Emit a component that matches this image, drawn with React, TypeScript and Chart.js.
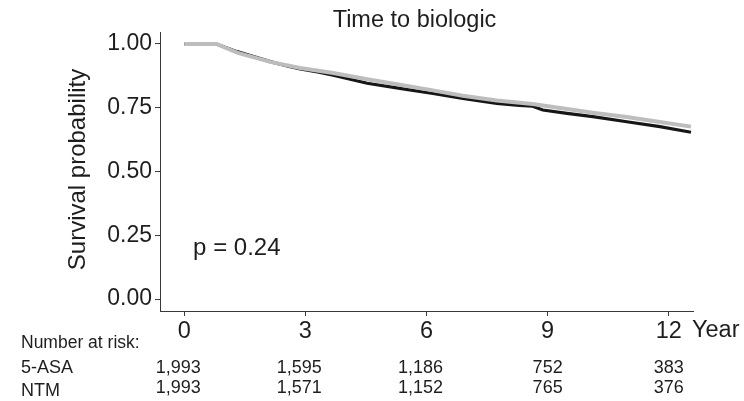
import React, { useEffect, useRef } from 'react';
import { Chart, registerables } from 'chart.js';

Chart.register(...registerables);

const chartTitle = 'Time to biologic';
const yAxisLabel = 'Survival probability';
const xAxisLabel = 'Year';
const pValueText = 'p = 0.24';
const riskHeader = 'Number at risk:';

const xTicks = [0, 3, 6, 9, 12];
const yTicks = [0, 0.25, 0.5, 0.75, 1];

const groupNames = ['5-ASA', 'NTM'];
const riskASA = ['1,993', '1,595', '1,186', '752', '383'];
const riskNTM = ['1,993', '1,571', '1,152', '765', '376'];

// 5-ASA (black curve)
const timesASA = [0, 0.8, 1.31, 2.13, 2.6, 2.87, 3.3, 3.69, 4.53, 5.34, 6.16, 6.9, 7.74, 8.3, 8.63, 8.88, 9.48, 10.12, 10.96, 11.78, 12.55];
const survASA = [1, 1, 0.97, 0.931, 0.912, 0.902, 0.89, 0.878, 0.846, 0.826, 0.806, 0.787, 0.767, 0.759, 0.756, 0.741, 0.728, 0.715, 0.695, 0.676, 0.654];

// NTM (grey curve)
const timesNTM = [0, 0.8, 1.31, 2.13, 2.87, 3.69, 4.53, 5.34, 6.16, 6.9, 7.74, 8.63, 9.48, 10.12, 10.96, 11.78, 12.55];
const survNTM = [1, 1, 0.966, 0.93, 0.906, 0.886, 0.862, 0.84, 0.818, 0.797, 0.778, 0.765, 0.745, 0.73, 0.714, 0.694, 0.676];

const FONT = '"Liberation Sans", Arial, Helvetica, sans-serif';
const TEXT = '#1e1e1e';
const AXIS = '#3a3a3a';

const annotationPlugin = {
  id: 'kmAnnotations',
  afterDraw(chart: any) {
    const { ctx, chartArea: area } = chart;
    const xs = chart.scales.x;
    const ys = chart.scales.y;
    ctx.save();
    ctx.fillStyle = TEXT;

    // title
    ctx.font = `23.5px ${FONT}`;
    ctx.textAlign = 'center';
    ctx.textBaseline = 'alphabetic';
    ctx.fillText(chartTitle, (area.left + area.right) / 2 - 12, 27);

    // y axis title
    ctx.save();
    ctx.translate(85, (area.top + area.bottom) / 2 - 2);
    ctx.rotate(-Math.PI / 2);
    ctx.font = `24px ${FONT}`;
    ctx.textAlign = 'center';
    ctx.fillText(yAxisLabel, 0, 0);
    ctx.restore();

    // p value
    ctx.font = `24px ${FONT}`;
    ctx.textAlign = 'left';
    ctx.fillText(pValueText, xs.getPixelForValue(0.22), ys.getPixelForValue(0.172));

    // "Year"
    ctx.font = `23.5px ${FONT}`;
    ctx.fillText(xAxisLabel, area.right - 1, area.bottom + 26);

    // risk table
    ctx.font = `17.5px ${FONT}`;
    ctx.fillText(riskHeader, 21, 348);
    ctx.font = `18px ${FONT}`;
    ctx.fillText(groupNames[0], 21, 373);
    ctx.fillText(groupNames[1], 21, 396);
    ctx.textAlign = 'center';
    xTicks.forEach((t, i) => {
      const a = riskASA[i];
      const b = riskNTM[i];
      const px = xs.getPixelForValue(t);
      ctx.fillText(a, px + (a.length > 3 ? -6 : 0), 373);
      ctx.fillText(b, px + (b.length > 3 ? -6 : 0), 393);
    });
    ctx.restore();
  },
};

export default function App() {
  const canvasRef = useRef<HTMLCanvasElement | null>(null);

  useEffect(() => {
    const canvas = canvasRef.current;
    if (!canvas) return;
    const chart = new Chart(canvas, {
      type: 'line',
      data: {
        datasets: [
          {
            label: groupNames[1],
            data: timesNTM.map((t, i) => ({ x: t, y: survNTM[i] })),
            borderColor: '#bdbdbd',
            borderWidth: 4,
            pointRadius: 0,
            tension: 0,
          },
          {
            label: groupNames[0],
            data: timesASA.map((t, i) => ({ x: t, y: survASA[i] })),
            borderColor: '#161616',
            borderWidth: 3.2,
            pointRadius: 0,
            tension: 0,
          },
        ],
      },
      options: {
        responsive: false,
        animation: false,
        devicePixelRatio: 1,
        layout: { padding: { left: 0, top: 32, right: 51, bottom: 0 } },
        plugins: {
          legend: { display: false },
          tooltip: { enabled: false },
          title: { display: false },
        },
        scales: {
          x: {
            type: 'linear',
            min: -0.6,
            max: 12.6,
            afterFit: (s: any) => {
              s.height = 90;
            },
            afterBuildTicks: (s: any) => {
              s.ticks = xTicks.map((v) => ({ value: v }));
            },
            ticks: {
              font: { family: FONT, size: 23.5 },
              color: TEXT,
              padding: 1,
              maxRotation: 0,
              autoSkip: false,
              callback: (v: any) => String(v),
            },
            grid: { drawOnChartArea: false, drawTicks: true, tickLength: 5, color: AXIS },
            border: { display: true, color: AXIS, width: 1 },
          },
          y: {
            type: 'linear',
            min: -0.047,
            max: 1.047,
            afterFit: (s: any) => {
              s.width = 160;
            },
            afterBuildTicks: (s: any) => {
              s.ticks = yTicks.map((v) => ({ value: v }));
            },
            ticks: {
              font: { family: FONT, size: 23 },
              color: TEXT,
              padding: 3,
              autoSkip: false,
              callback: (v: any) => Number(v).toFixed(2),
            },
            grid: { drawOnChartArea: false, drawTicks: true, tickLength: 5, color: AXIS },
            border: { display: true, color: AXIS, width: 1 },
          },
        },
      },
      plugins: [annotationPlugin],
    });
    return () => chart.destroy();
  }, []);

  return (
    <div style={{ position: 'fixed', left: 0, top: 0, width: 744, height: 401, background: '#fff' }}>
      <canvas ref={canvasRef} width={744} height={401} style={{ width: 744, height: 401, display: 'block' }} />
    </div>
  );
}
